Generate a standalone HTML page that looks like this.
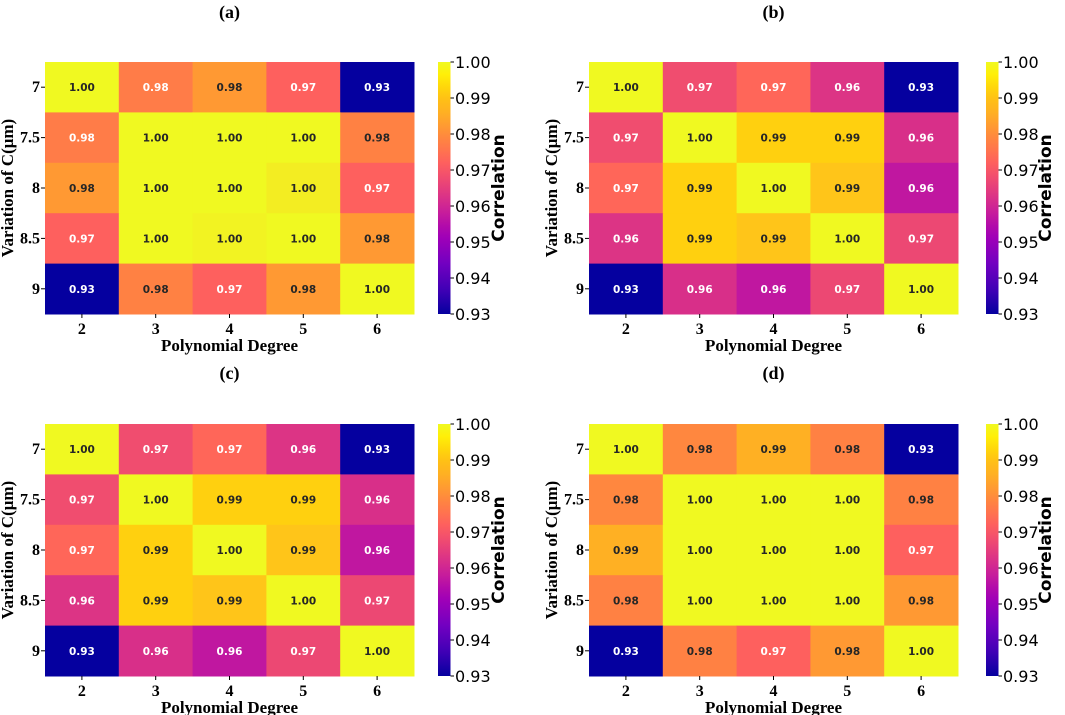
<!DOCTYPE html>
<html><head><meta charset="utf-8">
<style>
html,body{margin:0;padding:0;background:#fff;}
svg{display:block;}
</style></head>
<body>
<svg id="fig" width="1065" height="715" viewBox="0 0 1065 715" xmlns="http://www.w3.org/2000/svg">
<defs>
<linearGradient id="plasmaGrad" x1="0" y1="1" x2="0" y2="0"></linearGradient>
</defs>
</svg>
<script>
const xCategories = ["2","3","4","5","6"];
const yCategories = ["7","7.5","8","8.5","9"];
const cbTicks = [0.93,0.94,0.95,0.96,0.97,0.98,0.99,1.00];
const panelLabels = ["(a)","(b)","(c)","(d)"];
const valuesA = [
 [1.000,0.977,0.982,0.972,0.930],
 [0.977,1.000,1.000,1.000,0.978],
 [0.982,1.000,1.000,0.998,0.972],
 [0.972,1.000,0.999,1.000,0.982],
 [0.930,0.978,0.972,0.982,1.000]];
const valuesB = [
 [1.000,0.968,0.973,0.963,0.930],
 [0.968,1.000,0.992,0.992,0.962],
 [0.973,0.992,1.000,0.989,0.957],
 [0.963,0.992,0.989,1.000,0.967],
 [0.930,0.962,0.957,0.967,1.000]];
const valuesC = [
 [1.000,0.968,0.973,0.963,0.930],
 [0.968,1.000,0.992,0.992,0.962],
 [0.973,0.992,1.000,0.989,0.957],
 [0.963,0.992,0.989,1.000,0.967],
 [0.930,0.962,0.957,0.967,1.000]];
const valuesD = [
 [1.000,0.979,0.986,0.978,0.930],
 [0.979,1.000,1.000,1.000,0.978],
 [0.986,1.000,1.000,1.000,0.972],
 [0.978,1.000,1.000,1.000,0.982],
 [0.930,0.978,0.972,0.982,1.000]];
const vmin = 0.93, vmax = 1.00;

const stops = ["#0d0887","#41049d","#6a00a8","#8f0da4","#b12a90","#cc4778","#e16462","#f2844b","#fca636","#fcce25","#f0f921"];
function hex(h){return [parseInt(h.substr(1,2),16),parseInt(h.substr(3,2),16),parseInt(h.substr(5,2),16)];}
function boost(c,t){
  const m=(c[0]+c[1]+c[2])/3;
  const s=1.2, b=t>0.85?1.0:1.05;
  return c.map(v=>Math.max(0,Math.min(255,Math.round((m+(v-m)*s)*b))));
}
function cmap(v){
  let t=(v-vmin)/(vmax-vmin); t=Math.max(0,Math.min(1,t));
  const p=t*10, i=Math.min(9,Math.floor(p)), f=p-i;
  const a=hex(stops[i]), b=hex(stops[i+1]);
  const raw=[0,1,2].map(k=>a[k]+(b[k]-a[k])*f);
  if(t>0.97) return raw.map(Math.round);
  return boost(raw,t);
}
const NS="http://www.w3.org/2000/svg";
const svg=document.getElementById('fig');
function mk(tag,attrs,parent){const e=document.createElementNS(NS,tag);for(const k in attrs)e.setAttribute(k,attrs[k]);(parent||svg).appendChild(e);return e;}
const grad=document.getElementById('plasmaGrad');
for(let k=0;k<=20;k++){const c=cmap(vmin+(vmax-vmin)*k/20);mk('stop',{offset:k/20,'stop-color':`rgb(${c})`},grad);}

const panels=[
 {vals:valuesA,x0:45,y0:62,cb:438,ty:18,corrX:498},
 {vals:valuesB,x0:589,y0:62,cb:986,ty:18,corrX:1045},
 {vals:valuesC,x0:45,y0:424,cb:438,ty:379,corrX:498},
 {vals:valuesD,x0:589,y0:424,cb:986,ty:379,corrX:1045}];
const W=369,H=252;

panels.forEach((p,pi)=>{
  const g=mk('g',{});
  
  
  const cw=W/xCategories.length, rh=H/yCategories.length;
  const xPos=j=>p.x0+j*cw, yPos=i=>p.y0+i*rh;
  const title=mk('text',{x:p.x0+W/2,y:p.ty,'text-anchor':'middle','font-family':'Liberation Serif, serif','font-weight':'bold','font-size':'18'},g);
  title.textContent=panelLabels[pi];
  
  
  p.vals.forEach((row,i)=>row.forEach((v,j)=>{
    const c=cmap(v);
    const r=mk('rect',{x:xPos(j),y:yPos(i),width:cw+0.5,height:rh+0.5,fill:`rgb(${c})`},g);
    
    
    const lum=(0.299*c[0]+0.587*c[1]+0.114*c[2])/255;
    const t=mk('text',{x:xPos(j)+cw/2,y:yPos(i)+rh/2+4,'text-anchor':'middle','font-family':'DejaVu Sans, sans-serif','font-weight':'bold','font-size':'10.5',fill:lum>0.62?'#262626':'#ffffff'},g);
    t.textContent=v.toFixed(2);
    
    
  }));
  xCategories.forEach((c,j)=>{
    const x=xPos(j)+cw/2;
    mk('line',{x1:x,x2:x,y1:p.y0+H,y2:p.y0+H+4,stroke:'#000','stroke-width':1},g);
    const t=mk('text',{x:x,y:p.y0+H+20,'text-anchor':'middle','font-family':'Liberation Serif, serif','font-weight':'bold','font-size':'16'},g);
    t.textContent=c;
    
    
  });
  yCategories.forEach((c,i)=>{
    const y=yPos(i)+rh/2;
    mk('line',{x1:p.x0-4,x2:p.x0,y1:y,y2:y,stroke:'#000','stroke-width':1},g);
    const t=mk('text',{x:p.x0-5,y:y+5,'text-anchor':'end','font-family':'Liberation Serif, serif','font-weight':'bold','font-size':'16'},g);
    t.textContent=c;
    
    
  });
  const xl=mk('text',{x:p.x0+W/2,y:p.y0+H+37,'text-anchor':'middle','font-family':'Liberation Serif, serif','font-weight':'bold','font-size':'17'},g);
  xl.textContent='Polynomial Degree';
  
  
  const yl=mk('text',{x:0,y:0,'text-anchor':'middle','font-family':'Liberation Serif, serif','font-weight':'bold','font-size':'17',transform:`translate(${p.x0-32},${p.y0+H/2}) rotate(-90)`},g);
  yl.textContent='Variation of C(μm)';
  
  
  const cb=mk('rect',{x:p.cb,y:p.y0,width:12.5,height:H,fill:'url(#plasmaGrad)'},g);
  
  
  cbTicks.forEach(tv=>{
    const y=p.y0+H-(tv-vmin)/(vmax-vmin)*H;
    mk('line',{x1:p.cb+12.5,x2:p.cb+16,y1:y,y2:y,stroke:'#000','stroke-width':1},g);
    const t=mk('text',{x:p.cb+17,y:y+6,'font-family':'DejaVu Sans, sans-serif','font-size':'16'},g);
    t.textContent=tv.toFixed(2);
    
    
  });
  const cl=mk('text',{x:0,y:0,'text-anchor':'middle','font-family':'DejaVu Sans, sans-serif','font-weight':'bold','font-size':'17',transform:`translate(${p.corrX+6},${p.y0+H/2}) rotate(-90)`},g);
  cl.textContent='Correlation';
  
  
});
</script>
</body></html>
